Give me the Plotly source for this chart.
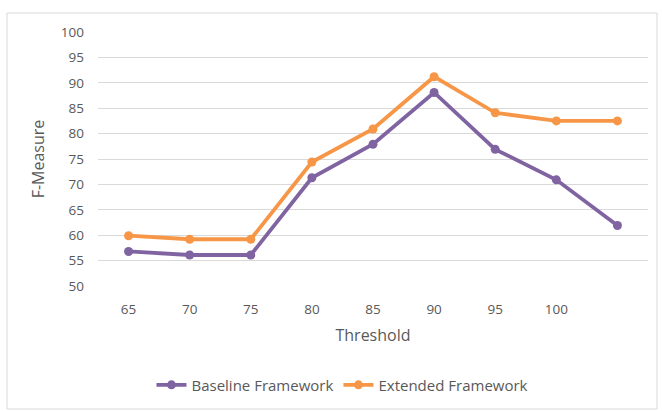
import plotly.graph_objects as go

thresholds = ["65", "70", "75", "80", "85", "90", "95", "100", " "]
baseline = [56.8, 56.1, 56.1, 71.3, 77.9, 88.1, 76.9, 70.9, 61.9]
extended = [59.9, 59.2, 59.2, 74.4, 80.9, 91.2, 84.1, 82.5, 82.5]

FONT = "Open Sans"
TXT = "#595959"

fig = go.Figure()
fig.add_trace(go.Scatter(
    x=thresholds, y=baseline, name="Baseline Framework", mode="lines+markers",
    line=dict(color="#8064A2", width=3.8), marker=dict(color="#8064A2", size=9)))
fig.add_trace(go.Scatter(
    x=thresholds, y=extended, name="Extended Framework", mode="lines+markers",
    line=dict(color="#F79646", width=3.8), marker=dict(color="#F79646", size=9)))

fig.update_layout(
    width=662, height=411,
    margin=dict(l=98, r=14, t=32, b=125, autoexpand=False),
    paper_bgcolor="white", plot_bgcolor="white",
    font=dict(family=FONT, size=13.5, color=TXT),
    showlegend=True,
    legend=dict(orientation="h", x=0.4445, xanchor="center", y=-0.39, yanchor="middle",
                font=dict(size=15, color=TXT), tracegroupgap=0),
    xaxis=dict(type="category", range=[-0.5, 8.5], showgrid=False, zeroline=False,
               showline=False, ticks="", ticklabelstandoff=13,
               tickfont=dict(size=13.5, color=TXT),
               title=dict(text="Threshold", font=dict(size=16, color=TXT), standoff=13)),
    yaxis=dict(range=[50, 100], dtick=5, tick0=50, showgrid=True, gridcolor="#D9D9D9",
               gridwidth=1, zeroline=False, showline=False, ticks="", ticklabelstandoff=13,
               tickfont=dict(size=13.5, color=TXT),
               title=dict(text="F-Measure", font=dict(size=16, color=TXT), standoff=12)),
    shapes=[dict(type="rect", xref="paper", yref="paper",
                 x0=-0.1655, x1=1.0164, y0=-0.4843, y1=1.0748,
                 line=dict(color="#D9D9D9", width=1), layer="below")],
)

fig.write_html("out.html", config={"displayModeBar": False},
               post_script="document.body.style.margin='0';")
